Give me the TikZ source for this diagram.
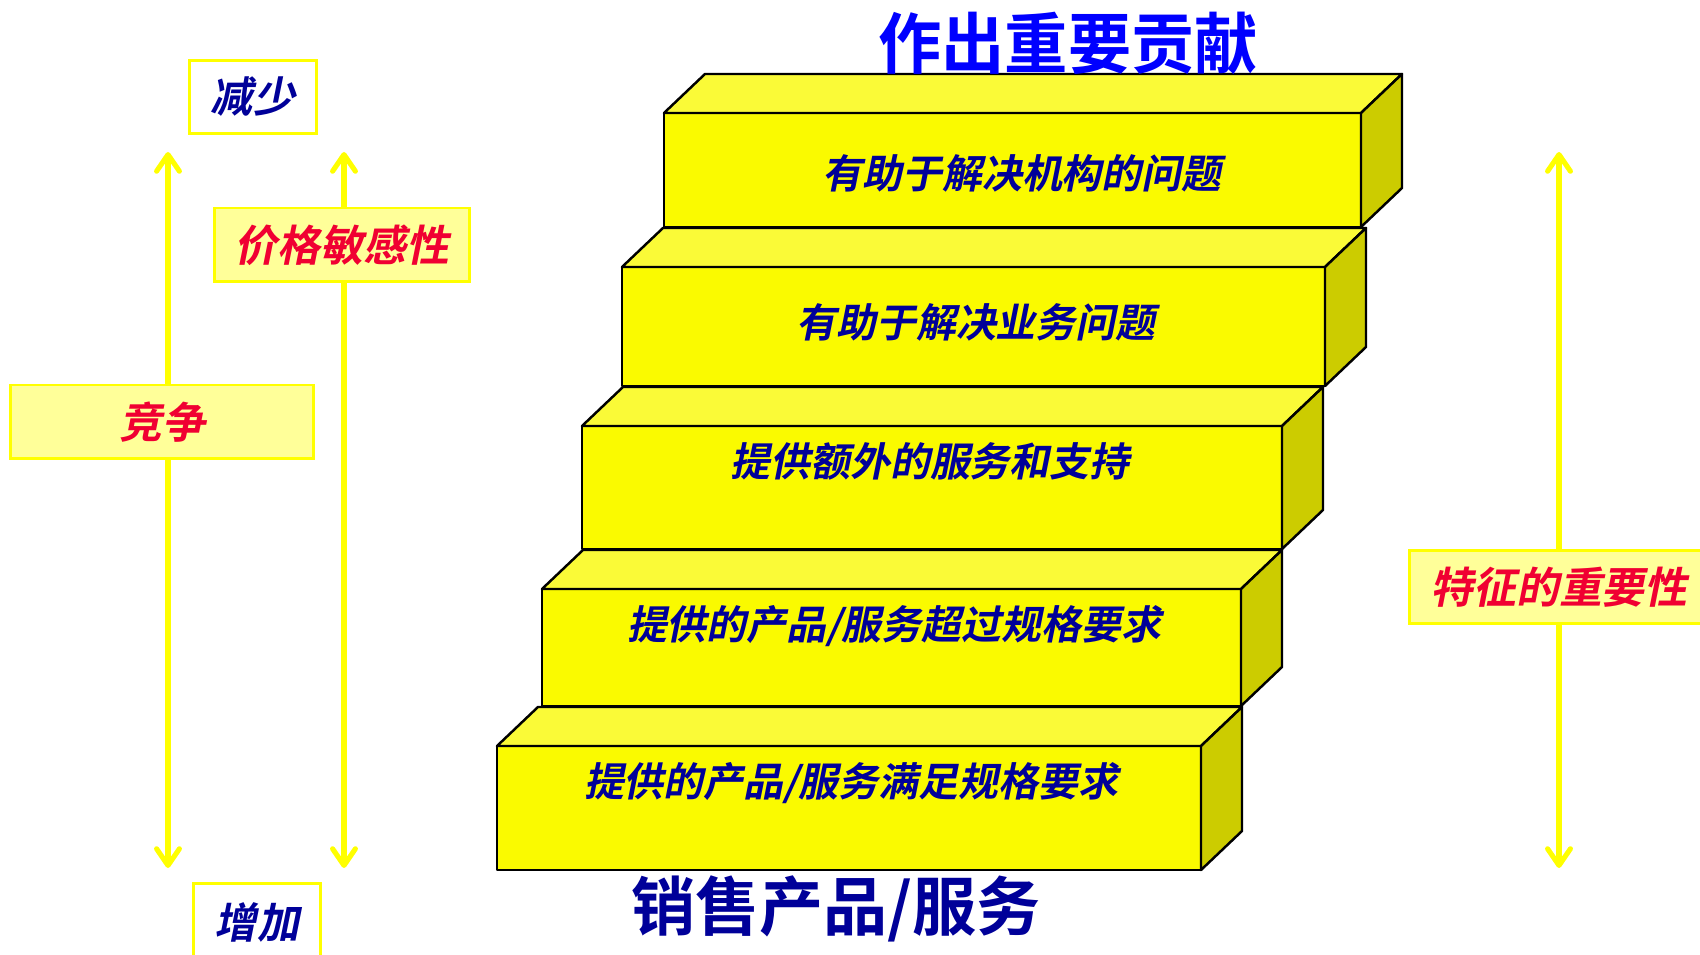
\documentclass[tikz,border=0pt]{standalone}
\usepackage{fontspec}
\usetikzlibrary{arrows.meta}
\newfontfamily\cjkbi[FakeSlant=0.2]{Noto Sans CJK SC Bold}
\newfontfamily\cjkb{Noto Sans CJK SC Bold}
\definecolor{stepfront}{RGB}{250,250,0}
\definecolor{steptop}{RGB}{250,250,55}
\definecolor{stepside}{RGB}{204,204,0}
\definecolor{navytxt}{RGB}{0,0,153}
\definecolor{titleblue}{RGB}{0,0,255}
\definecolor{redtxt}{RGB}{240,0,50}
\definecolor{lightyel}{RGB}{255,255,153}
\definecolor{yel}{RGB}{255,255,0}
\tikzset{
  stepline/.style={draw=black, line width=1.4pt, line join=round},
  steptext/.style={font=\cjkbi\fontsize{22.7}{26}\selectfont, text=navytxt, inner sep=0pt},
  markbox/.style={draw=yel, line width=1.7pt, fill=white, font=\cjkbi\fontsize{24}{28}\selectfont, text=navytxt, inner sep=0pt},
  factorbox/.style={draw=yel, line width=1.7pt, fill=lightyel, font=\cjkbi\fontsize{24.4}{28}\selectfont, text=redtxt, inner sep=0pt},
  yarrow/.style={draw=yel, line width=2.9pt, {Straight Barb[length=9.5pt,width=13pt,round]}-{Straight Barb[length=9.5pt,width=13pt,round]}},
}
% name, x1, y1 (top), x2, y2 (bottom)
\newcommand\stepblk[5]{%
  \filldraw[stepline, fill=stepfront] (#2,#3) rectangle (#4,#5);
  \filldraw[stepline, fill=steptop] (#2,#3) -- ++(41,-39) -- ({#4+41},{#3-39}) -- (#4,#3) -- cycle;
  \filldraw[stepline, fill=stepside] (#4,#3) -- ++(41,-39) -- ++(0,{#5-#3}) -- (#4,#5) -- cycle;
  \coordinate (#1) at ({(#2+#4)/2},{(#3+#5)/2});
}
\begin{document}
\begin{tikzpicture}[x=0.02cm,y=-0.02cm]
\fill[white] (0,0) rectangle (1700,955);
\useasboundingbox (0,0) rectangle (1700,955);

% arrows (drawn first, boxes cover them)
\coordinate (a1t) at (168,152); \coordinate (a1b) at (168,868);
\coordinate (a2t) at (344,152); \coordinate (a2b) at (344,868);
\coordinate (a3t) at (1559,152); \coordinate (a3b) at (1559,868);
\draw[yarrow] (a1t) -- (a1b);
\draw[yarrow] (a2t) -- (a2b);
\draw[yarrow] (a3t) -- (a3b);

% left / right labels
\node[markbox, minimum width=2.56cm, minimum height=1.46cm] (less) at (253,97) {减少};
\node[markbox, minimum width=2.56cm, minimum height=1.56cm] (more) at (257,922) {增加};
\node[factorbox, minimum width=6.08cm, minimum height=1.48cm] (comp) at (162,422) {竞争};
\node[factorbox, minimum width=5.10cm, minimum height=1.48cm] (price) at (342,245) {价格敏感性};
\node[factorbox, minimum width=6.0cm, minimum height=1.46cm] (feat) at (1559,587) {特征的重要性};

% steps (back to front)
\stepblk{s5}{664}{113}{1361}{227}
\stepblk{s4}{622}{267}{1325}{386}
\stepblk{s3}{582}{426}{1282}{549}
\stepblk{s2}{542}{589}{1241}{706}
\stepblk{s1}{497}{746}{1201}{870}

\node[steptext] (t5) at (1022,173) {有助于解决机构的问题};
\node[steptext] (t4) at (976,322) {有助于解决业务问题};
\node[steptext] (t3) at (930,461) {提供额外的服务和支持};
\node[steptext] (t2) at (894,626) {提供的产品/服务超过规格要求};
\node[steptext] (t1) at (851,783) {提供的产品/服务满足规格要求};

\node[font=\cjkb\fontsize{36}{40}\selectfont, text=titleblue, inner sep=0pt, yscale=1.05] (top) at (1068,43) {作出重要贡献};
\node[font=\cjkb\fontsize{36.5}{42}\selectfont, text=navytxt, inner sep=0pt] (base) at (836,909) {销售产品/服务};
\end{tikzpicture}
\end{document}
